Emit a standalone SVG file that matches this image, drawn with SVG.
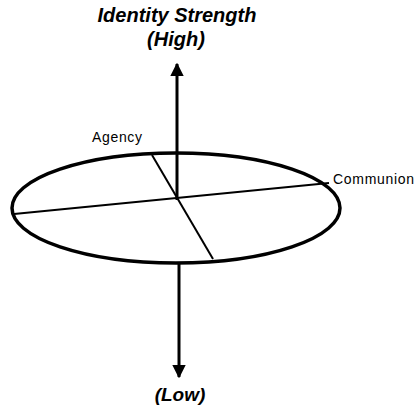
<svg xmlns="http://www.w3.org/2000/svg" width="417" height="408" viewBox="0 0 417 408">
<style>
.title{font-family:"Liberation Sans",Arial,sans-serif;font-weight:bold;font-style:italic;fill:#000}
.lbl{font-family:"Liberation Sans",Arial,sans-serif;font-size:14px;fill:#000}
.axis{stroke:#000;stroke-width:3;fill:none}
.chord{stroke:#000;stroke-width:2;fill:none}
</style>
<defs>
<marker id="ah" viewBox="0 0 10 10" refX="9" refY="5" markerWidth="4.5" markerHeight="4.5" orient="auto-start-reverse" markerUnits="strokeWidth">
<path d="M0,0 L10,5 L0,10 z" fill="#000"/>
</marker>
</defs>
<rect width="417" height="408" fill="#fff"/>
<g id="title">
<text class="title" x="177" y="22" font-size="20" text-anchor="middle">Identity Strength</text>
<text class="title" x="176" y="46" font-size="20" text-anchor="middle">(High)</text>
</g>
<g id="low">
<text class="title" x="180" y="401" font-size="19" text-anchor="middle">(Low)</text>
</g>
<g id="connectors">
<line class="axis" x1="177" y1="200" x2="177" y2="64" marker-end="url(#ah)"/>
<line class="axis" x1="179" y1="262" x2="179" y2="377" marker-end="url(#ah)"/>
</g>
<g id="plane">
<ellipse cx="176" cy="208" rx="164" ry="55" fill="none" stroke="#000" stroke-width="3.5"/>
<line class="chord" x1="14" y1="214" x2="329" y2="183"/>
<line class="chord" x1="152" y1="155" x2="213" y2="259"/>
</g>
<g id="agency">
<text class="lbl" x="92" y="142" textLength="50">Agency</text>
</g>
<g id="communion">
<text class="lbl" x="333" y="184" textLength="81">Communion</text>
</g>
</svg>
